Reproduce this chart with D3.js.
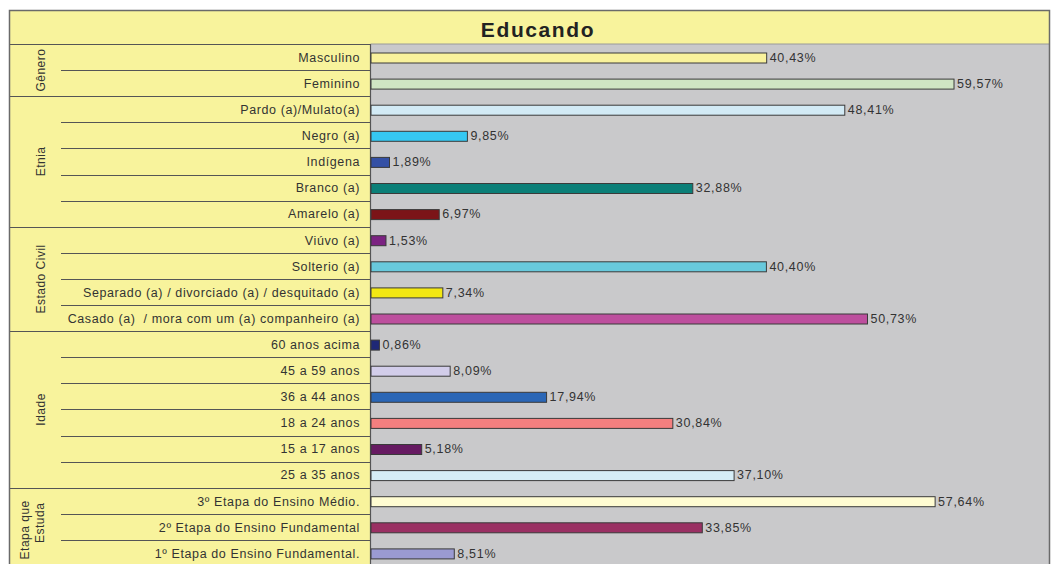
<!DOCTYPE html>
<html lang="pt">
  <head>
    <meta charset="utf-8">
    <title>Educando</title>
    <script src="https://cdn.jsdelivr.net/npm/d3@7"></script>
    <style>
      html, body { margin: 0; padding: 0; background: #fff; }
      svg { display: block; font-family: "Liberation Sans", Arial, sans-serif; }
      .row-label { font-size: 12.5px; fill: #333; letter-spacing: 0.6px; white-space: pre; }
      .val-label { font-size: 12.5px; fill: #333; letter-spacing: 0.7px; }
      .group-label { font-size: 12px; fill: #333; letter-spacing: 0.5px; }
    </style>
  </head>
  <body>
    <div id="chart"></div>
    <script>

      /*
       * Data
       */

      var title = "Educando"

      var groups = [
        { name: ["Gênero"], size: 2 },
        { name: ["Etnia"], size: 5 },
        { name: ["Estado Civil"], size: 4 },
        { name: ["Idade"], size: 6 },
        { name: ["Etapa que", "Estuda"], size: 3 }
      ]

      var categories = [
        "Masculino", "Feminino",
        "Pardo (a)/Mulato(a)", "Negro (a)", "Indígena", "Branco (a)", "Amarelo (a)",
        "Viúvo (a)", "Solterio (a)", "Separado (a) / divorciado (a) / desquitado (a)", "Casado (a)  / mora com um (a) companheiro (a)",
        "60 anos acima", "45 a 59 anos", "36 a 44 anos", "18 a 24 anos", "15 a 17 anos", "25 a 35 anos",
        "3º Etapa do Ensino Médio.", "2º Etapa do Ensino Fundamental", "1º Etapa do Ensino Fundamental."
      ]

      var values = [
        40.43, 59.57,
        48.41, 9.85, 1.89, 32.88, 6.97,
        1.53, 40.40, 7.34, 50.73,
        0.86, 8.09, 17.94, 30.84, 5.18, 37.10,
        57.64, 33.85, 8.51
      ]

      var barColors = [
        "#f9f29c", "#cfe5c4",
        "#d2eaf5", "#35c8f2", "#3450a5", "#0b7f78", "#7b1418",
        "#7b2282", "#68c9dc", "#f3e812", "#bd4f9e",
        "#1f2876", "#d2cdea", "#2a66b6", "#f47f7f", "#661a62", "#d6edf6",
        "#fffcd2", "#9a3063", "#9a9ad2"
      ]

      /*
       * Layout
       */

      var W = 1051, H = 564
      var leftX = 9.5, rightX = 1049.5, topY = 10.5, titleBottom = 44
      var panelRight = 370.5, subLeft = 61
      var rowsBottom = 566

      var pt = d3.formatLocale({ decimal: ",", thousands: ".", grouping: [3], currency: ["R$", ""] })
      var fmt = pt.format(".2f")

      var svg = d3.select("#chart").append("svg")
        .attr("width", W)
        .attr("height", H)

      var y = d3.scaleBand()
        .domain(categories)
        .range([titleBottom, rowsBottom])
        .paddingInner(0)

      var x = d3.scaleLinear()
        .domain([0, 70])
        .range([371, 371 + 70 * 9.787])

      // backgrounds
      svg.append("rect")
        .attr("x", leftX).attr("y", topY)
        .attr("width", rightX - leftX).attr("height", titleBottom - topY)
        .attr("fill", "#f8f39c")

      svg.append("rect")
        .attr("x", leftX).attr("y", titleBottom)
        .attr("width", panelRight - leftX).attr("height", rowsBottom - titleBottom)
        .attr("fill", "#f8f39c")

      svg.append("rect")
        .attr("x", panelRight).attr("y", titleBottom)
        .attr("width", rightX - panelRight).attr("height", rowsBottom - titleBottom)
        .attr("fill", "#c9c9cb")

      svg.append("text")
        .attr("x", 538).attr("y", 29)
        .attr("text-anchor", "middle")
        .attr("dominant-baseline", "central")
        .style("font-size", "21px")
        .style("font-weight", "bold")
        .style("letter-spacing", "1.6px")
        .style("fill", "#222")
        .text(title)

      // row separators
      var start = 0
      groups.forEach(function(g) {
        var gTop = y(categories[start])
        var gBot = gTop + g.size * y.bandwidth()

        for (var i = 1; i < g.size; i++) {
          var ly = Math.round(y(categories[start + i])) + 0.5
          svg.append("line")
            .attr("x1", subLeft).attr("x2", panelRight)
            .attr("y1", ly).attr("y2", ly)
            .attr("stroke", "#555").attr("stroke-width", 1.2)
        }

        var gy = Math.round(gTop) + 0.5
        svg.append("line")
          .attr("x1", leftX).attr("x2", panelRight)
          .attr("y1", gy).attr("y2", gy)
          .attr("stroke", "#555").attr("stroke-width", 1.2)

        var cy = (gTop + Math.min(gBot, rowsBottom)) / 2
        var lbl = svg.append("text")
          .attr("class", "group-label")
          .attr("text-anchor", "middle")

        if (g.name.length == 1) {
          lbl.attr("transform", "translate(41," + cy + ") rotate(-90)")
          lbl.append("tspan").attr("x", 0).attr("dy", "0.35em").text(g.name[0])
        } else {
          lbl.attr("transform", "translate(36," + cy + ") rotate(-90)")
          lbl.append("tspan").attr("x", -3).attr("dy", "-0.55em").text(g.name[0])
          lbl.append("tspan").attr("x", 4).attr("dy", "1.25em").text(g.name[1])
        }

        start += g.size
      })

      // line under title
      svg.append("line")
        .attr("x1", panelRight).attr("x2", rightX)
        .attr("y1", titleBottom).attr("y2", titleBottom)
        .attr("stroke", "#9a9a9a").attr("stroke-width", 1)

      // vertical border between panel and plot
      svg.append("line")
        .attr("x1", panelRight).attr("x2", panelRight)
        .attr("y1", titleBottom).attr("y2", rowsBottom)
        .attr("stroke", "#555").attr("stroke-width", 1.2)

      // row labels
      svg.selectAll(".row-label")
        .data(categories)
        .enter().append("text")
        .attr("class", "row-label")
        .attr("x", 360)
        .attr("y", function(d) { return y(d) + 13.8 })
        .attr("text-anchor", "end")
        .attr("dominant-baseline", "central")
        .text(function(d) { return d })

      // bars
      svg.selectAll(".bar")
        .data(values)
        .enter().append("rect")
        .attr("class", "bar")
        .attr("x", x(0))
        .attr("y", function(d, i) { return y(categories[i]) + 9 })
        .attr("width", function(d) { return x(d) - x(0) })
        .attr("height", 10)
        .attr("fill", function(d, i) { return barColors[i] })
        .attr("stroke", "#3a3a3a")
        .attr("stroke-width", 1)

      svg.selectAll(".val-label")
        .data(values)
        .enter().append("text")
        .attr("class", "val-label")
        .attr("x", function(d) { return x(d) + 3 })
        .attr("y", function(d, i) { return y(categories[i]) + 13.8 })
        .attr("dominant-baseline", "central")
        .text(function(d) { return fmt(d) + "%" })

      // outer border
      svg.append("path")
        .attr("d", "M" + leftX + "," + rowsBottom + "V" + topY + "H" + rightX + "V" + rowsBottom)
        .attr("fill", "none")
        .attr("stroke", "#6a6a6a")
        .attr("stroke-width", 1.5)

    </script>
  </body>
</html>
